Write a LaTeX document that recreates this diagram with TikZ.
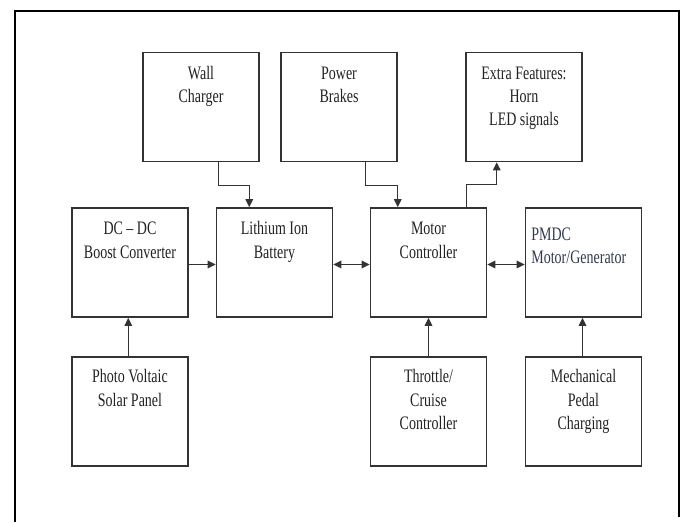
\documentclass[tikz,border=0pt]{standalone}
\usepackage{fontspec}
\setmainfont{Liberation Serif}
\usepackage{graphicx}
\usetikzlibrary{arrows.meta,calc}
\definecolor{boxline}{HTML}{333333}
\definecolor{txt}{HTML}{222222}
\definecolor{pmtxt}{HTML}{343A4E}
\newcommand{\vt}[1]{\scalebox{1}[1.36]{\fontsize{14}{17.2}\selectfont\begin{tabular}[t]{@{}c@{}}#1\end{tabular}}}
\newcommand{\vtl}[1]{\scalebox{1}[1.36]{\fontsize{14}{16.4}\selectfont\begin{tabular}[t]{@{}l@{}}#1\end{tabular}}}
\begin{document}
\begin{tikzpicture}[x=1pt,y=-1pt,
  blk/.style={draw=boxline, line width=1.6pt, minimum width=116pt, minimum height=109pt, inner sep=0pt},
  lbl/.style={anchor=base, inner sep=0pt, text=txt},
  conn/.style={draw=boxline, line width=1.4pt, -{Triangle[length=8pt,width=7.5pt]}},
  biconn/.style={draw=boxline, line width=1.4pt, {Triangle[length=8pt,width=7.5pt]}-{Triangle[length=8pt,width=7.5pt]}}]
\useasboundingbox (0,0) rectangle (684,522);
\draw[line width=1.8pt] (15,522) -- (15,11) -- (679,11) -- (679,517);
% boxes
\node[blk] (wc) at (201,107) {};
\node[blk] (pb) at (339,107) {};
\node[blk] (ef) at (524,107) {};
\node[blk] (dc) at (130,262.5) {};
\node[blk] (li) at (274.5,262.5) {};
\node[blk] (mc) at (428.5,262.5) {};
\node[blk] (pm) at (583.5,262.5) {};
\node[blk] (pv) at (130,411.5) {};
\node[blk] (th) at (428.5,411.5) {};
\node[blk] (me) at (583.5,411.5) {};
% labels
\node[lbl] (wct) at ($(wc.north)+(0,27.5)$) {\vt{Wall\\Charger}};
\node[lbl] (pbt) at ($(pb.north)+(0,27.5)$) {\vt{Power\\Brakes}};
\node[lbl] (eft) at ($(ef.north)+(0,27.5)$) {\vt{Extra Features:\\Horn\\LED signals}};
\node[lbl] (dct) at ($(dc.north)+(0,27.5)$) {\vt{DC – DC\\Boost Converter}};
\node[lbl] (lit) at ($(li.north)+(0,27.5)$) {\vt{Lithium Ion\\Battery}};
\node[lbl] (mct) at ($(mc.north)+(0,27.5)$) {\vt{Motor\\Controller}};
\node[lbl, anchor=base west, text=pmtxt] (pmt) at ($(pm.north west)+(6.5,33.5)$) {\vtl{PMDC\\Motor/Generator}};
\node[lbl] (pvt) at ($(pv.north)+(0,26.5)$) {\vt{Photo Voltaic\\Solar Panel}};
\node[lbl] (tht) at ($(th.north)+(0,26.5)$) {\vt{Throttle/\\Cruise\\Controller}};
\node[lbl] (met) at ($(me.north)+(0,26.5)$) {\vt{Mechanical\\Pedal\\Charging}};
% connectors
\draw[conn] ([xshift=17.7pt]wc.south) -- ++(0,23) -| ([xshift=-25.2pt]li.north);
\draw[conn] ([xshift=26.7pt]pb.south) -- ++(0,23) -| ([xshift=-30.8pt]mc.north);
\draw[conn] ([xshift=37.8pt]mc.north) -- ++(0,-23) -| ([xshift=-27.3pt]ef.south);
\draw[conn] ([yshift=-2pt]dc.east) -- ([yshift=-2pt]li.west);
\draw[biconn] ([yshift=-2pt]li.east) -- ([yshift=-2pt]mc.west);
\draw[biconn] ([yshift=-2pt]mc.east) -- ([yshift=-2pt]pm.west);
\draw[conn] ([xshift=-1.7pt]pv.north) -- ([xshift=-1.7pt]dc.south);
\draw[conn] (th.north) -- (mc.south);
\draw[conn] ([xshift=-1pt]me.north) -- ([xshift=-1pt]pm.south);
\end{tikzpicture}
\end{document}
